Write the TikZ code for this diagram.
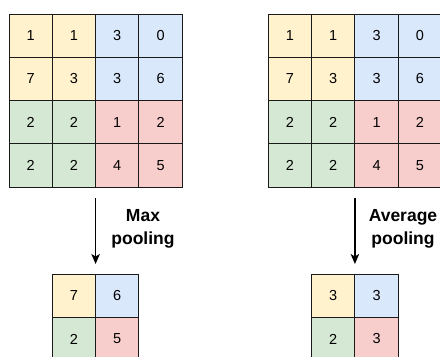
\documentclass[tikz,border=0pt]{standalone}
\usepackage{fontspec}
\setmainfont{Liberation Sans}
\usetikzlibrary{arrows.meta}
\definecolor{cyellow}{HTML}{FFF2CC}
\definecolor{cblue}{HTML}{DAE8FC}
\definecolor{cgreen}{HTML}{D5E8D4}
\definecolor{cred}{HTML}{F8CECC}
\definecolor{cedge}{HTML}{1A1A1A}
\newcommand\cellcolorof[2]{%
  \ifnum#1<3 \ifnum#2<3 \def\cc{cyellow}\else\def\cc{cblue}\fi
  \else \ifnum#2<3 \def\cc{cgreen}\else\def\cc{cred}\fi\fi}
\newcommand\cellcolorsmall[2]{%
  \ifnum#1<2 \ifnum#2<2 \def\cc{cyellow}\else\def\cc{cblue}\fi
  \else \ifnum#2<2 \def\cc{cgreen}\else\def\cc{cred}\fi\fi}
\begin{document}
\begin{tikzpicture}[x=1bp,y=-1bp,
  cell/.style={draw=cedge, line width=0.9bp, minimum size=43.3bp,
    inner sep=0pt, outer sep=0pt, anchor=north west,
    font=\fontsize{14.5bp}{16bp}\selectfont},
  lbl/.style={align=center, inner sep=0pt,
    font=\bfseries\fontsize{17.5bp}{23bp}\selectfont},
  flow/.style={line width=1.4bp, draw=black,
    -{Stealth[length=10bp,width=8.5bp,inset=2.5bp]}}]
\useasboundingbox (0,0) rectangle (440,356);
\clip (0,0) rectangle (440,356);
\fill[white] (0,0) rectangle (440,356);

% input feature maps
\foreach \row [count=\r] in {{1,1,3,0},{7,3,3,6},{2,2,1,2},{2,2,4,5}} {
  \foreach \v [count=\c] in \row {
    \cellcolorof{\r}{\c}
    \node[cell, fill=\cc] (L\r\c) at ({9+(\c-1)*43.3},{14+(\r-1)*43.3}) {\v};
    \node[cell, fill=\cc] (R\r\c) at ({268.3+(\c-1)*43.3},{14+(\r-1)*43.3}) {\v};
  }
}

% pooled outputs
\foreach \row [count=\r] in {{7,6},{2,5}} {
  \foreach \v [count=\c] in \row {
    \cellcolorsmall{\r}{\c}
    \node[cell, fill=\cc] (M\r\c) at ({52.3+(\c-1)*43.3},{274+(\r-1)*43.3}) {\v};
  }
}
\foreach \row [count=\r] in {{3,3},{2,3}} {
  \foreach \v [count=\c] in \row {
    \cellcolorsmall{\r}{\c}
    \node[cell, fill=\cc] (A\r\c) at ({311.6+(\c-1)*43.3},{274+(\r-1)*43.3}) {\v};
  }
}

% pooling arrows and labels
\draw[flow] ([yshift=-11bp]L42.south east) -- ([yshift=10bp]M11.north east);
\draw[flow] ([yshift=-11bp]R42.south east) -- ([yshift=10bp]A11.north east);
\node[lbl] (maxlbl) at (143,229) {Max\\pooling};
\node[lbl] (avglbl) at (403,229) {Average\\pooling};
\end{tikzpicture}
\end{document}
